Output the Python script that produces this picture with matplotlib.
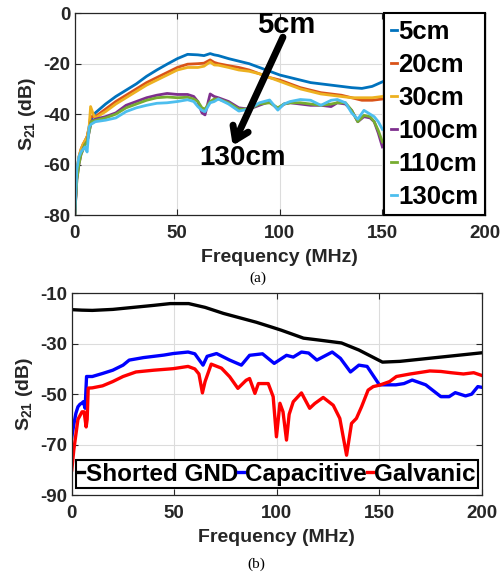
import numpy as np
import matplotlib
matplotlib.use('Agg')
import matplotlib.pyplot as plt

plt.rcParams['font.family'] = ['Liberation Sans', 'DejaVu Sans']
plt.rcParams['font.weight'] = 'bold'
plt.rcParams['axes.unicode_minus'] = False
plt.rcParams['mathtext.fontset'] = 'custom'
plt.rcParams['mathtext.rm'] = 'Liberation Sans:bold'
plt.rcParams['mathtext.it'] = 'Liberation Sans:bold'
plt.rcParams['mathtext.bf'] = 'Liberation Sans:bold'

# =============================================================================
# (a) S21 vs distance
# =============================================================================
f_up = [0, 1, 2, 3, 4, 5, 6, 7, 7.7, 9, 10, 15, 20, 25, 30, 35, 40, 45, 50, 55,
        60, 63, 66, 68, 70, 75, 80, 85, 90, 95, 100, 105, 110, 115, 120, 125,
        130, 135, 140, 145, 150]
s_5cm = [-80, -64, -58, -55, -53, -51, -49, -46, -43, -40.5, -39.5, -36, -33,
         -30.5, -28, -25, -22.5, -20.2, -18, -16.3, -16.5, -16.8, -16, -16.5,
         -16.8, -18, -19, -20, -21.5, -23, -24.5, -25.5, -26.5, -27.5, -28,
         -28.5, -29, -29.5, -29.8, -29, -27.2]
s_20cm = [-80, -63, -57, -54, -52, -50.5, -49, -45, -41, -41, -41, -38, -35,
          -32.5, -30, -27.5, -25.5, -23.5, -21.5, -20.2, -20, -19.8, -18.5,
          -19.5, -20, -20.8, -21.5, -22.5, -24, -25.5, -26.5, -28, -29.5,
          -30.5, -31.5, -32, -32.5, -33.5, -34.5, -34.5, -34]
s_30cm = [-80, -63, -57, -54, -52, -50.5, -49, -45, -37, -40, -41.5, -39, -36,
          -33.5, -31, -28.5, -26.5, -24.5, -22.5, -21.5, -21.5, -21, -19.3,
          -20.5, -20.6, -21.5, -22.5, -23, -24, -25.5, -27, -28.5, -30, -31,
          -32, -32.5, -33, -33.5, -33.5, -33.5, -33]

f_low = [0, 1, 2, 3, 4, 5, 6, 7, 8, 10, 15, 20, 25, 30, 35, 40, 45, 50, 55, 58,
         60, 62, 63.5, 66, 68, 70, 75, 80, 85, 90, 95, 99, 102, 105, 110, 115,
         120, 125, 128, 132, 135, 138, 141, 144, 146, 148, 150]
s_100cm = [-80, -66, -60, -56, -54, -52, -51, -47, -43, -42, -41, -39.5, -36.5,
           -35, -33.5, -32.5, -31.8, -32.2, -32.2, -33, -35, -39.5, -40.3, -32,
           -33, -33.5, -35, -37.5, -38, -36.5, -35, -38, -36, -35.5, -36,
           -36.5, -36.5, -37, -35.5, -36, -38.5, -43, -41, -41.5, -43, -47.5,
           -53]
s_110cm = [-80, -66, -60, -56, -54, -52, -51, -47, -43, -42.5, -41.5, -40,
           -37.5, -36, -34.5, -33.5, -33.2, -33.5, -33.3, -34, -35, -37.5, -38,
           -35, -34, -34, -35.5, -38, -38, -36, -35.5, -37.5, -36, -35.5,
           -35.5, -36, -36.5, -36, -35.5, -35.5, -38.5, -43, -40.5, -41, -43,
           -46.5, -51]
s_130cm = [-80, -62, -57, -55, -54, -53, -55, -45, -44, -43, -42.4, -41.5, -39,
           -37.5, -36.5, -35.7, -35.5, -35, -34.3, -35, -37, -38.5, -39, -35.5,
           -35, -34, -36, -38.8, -38, -35.5, -34.4, -38.4, -36, -35, -34.2,
           -34.5, -36.5, -34.5, -34.2, -35.5, -39.5, -42, -38.5, -40, -41, -43,
           -46]

dist_labels = ['5cm', '20cm', '30cm', '100cm', '110cm', '130cm']
dist_colors = ['#0072BD', '#D95319', '#EDB120', '#7E2F8E', '#77AC30', '#4DBEEE']

# =============================================================================
# (b) S21 vs ground configuration
# =============================================================================
f_gnd = [0, 5, 10, 20, 30, 40, 48, 57, 65, 74, 90, 97, 102, 113, 120, 131.5,
         140, 151.5, 160, 200]
s_gnd = [-16.5, -16.7, -16.8, -16.4, -15.6, -14.8, -14.1, -14.1, -15.6, -18,
         -21.5, -23.3, -24.6, -27.8, -28.5, -29.7, -32.5, -37.3, -37.0, -33.6]

f_cap = [0, 1, 2, 3, 4, 5, 5.6, 6.5, 7.2, 8, 10, 15, 20, 25, 28, 35, 40, 45,
         49.4, 56.7, 60, 64, 66, 70.6, 77, 82.7, 86.7, 93, 98.7, 104.7, 108,
         112, 115.5, 119.5, 127, 131, 135.9, 140, 144, 150, 158, 162, 166,
         172.6, 180, 184, 187, 192, 195, 198, 200]
s_cap = [-67, -62, -57.6, -55, -54, -53.5, -53, -55.6, -43, -43, -43, -41.8,
         -40.5, -38.5, -36.5, -35.5, -35, -34.5, -33.9, -33.3, -34, -38.5, -35,
         -33.9, -36.5, -38.5, -34.6, -34, -37.8, -34.6, -35.3, -33.3, -33.7,
         -36.5, -33.3, -35.8, -41.2, -38.5, -39, -46.3, -46.3, -45.8, -44.4,
         -46.3, -51, -51, -49.4, -50.7, -50, -47, -47.3]

f_gal = [0, 1, 3, 5, 6, 7, 7.5, 8, 10, 15, 20, 25, 31.3, 40, 49.4, 56.7, 60, 62,
         63.7, 65, 68, 73, 77, 81, 85, 86.7, 89.3, 91, 95.8, 98.2, 99.8, 101.5,
         103, 104.7, 106, 108, 112, 116, 118.5, 122.6, 127.5, 130.7, 134,
         136.4, 138.8, 141.3, 144.5, 147, 150.2, 155, 158.3, 165, 174.6, 180,
         185, 191, 196, 200]
s_gal = [-80, -72, -60, -57, -57, -63, -60, -47.6, -47.5, -46.7, -45, -43,
         -41.2, -40.5, -39.9, -39, -40, -42, -49.5, -45, -38.1, -39.7, -43.1,
         -47.7, -44.5, -43.8, -49.7, -45.8, -45.8, -51, -66.9, -53.6, -57,
         -68.2, -58, -53, -49.5, -55.6, -53.7, -51.3, -54.4, -59.6, -74.2,
         -61.6, -59.6, -55, -48.4, -47, -46.4, -45, -43, -42, -40.8, -41,
         -41.5, -42, -41.5, -42.6]

cfg_labels = ['Shorted GND', 'Capacitive', 'Galvanic']
cfg_colors = ['k', '#0000ff', '#ff0000']


def style_axes(ax):
    ax.grid(True, color='#dcdcdc', lw=0.8)
    ax.set_axisbelow(True)
    ax.tick_params(direction='in', length=4, width=0.8, labelsize=13.5,
                   top=True, right=True, colors='#262626')
    ax.tick_params(axis='x', pad=7)
    ax.tick_params(axis='y', pad=3)
    for lab in ax.get_xticklabels() + ax.get_yticklabels():
        lab.set_fontweight('bold')
    for sp in ax.spines.values():
        sp.set_color('#262626')
        sp.set_linewidth(0.9)
    ax.set_xlabel('Frequency (MHz)', fontsize=14, fontweight='bold',
                  labelpad=5.5, color='#262626')
    ax.set_ylabel(r'S$_{21}$ (dB)', fontsize=14, fontweight='bold',
                  labelpad=4, color='#262626')


fig = plt.figure(figsize=(5.02, 5.75), dpi=100)

# --- top panel ---
ax1 = fig.add_axes([0.149, 0.626, 0.817, 0.351])
top_f = [f_up, f_up, f_up, f_low, f_low, f_low]
top_s = [s_5cm, s_20cm, s_30cm, s_100cm, s_110cm, s_130cm]
for f, s, lab, c in zip(top_f, top_s, dist_labels, dist_colors):
    ax1.plot(f, s, color=c, lw=2.0, label=lab)
ax1.set_xlim(0, 200)
ax1.set_ylim(-80, 0)
ax1.set_xticks([0, 50, 100, 150, 200])
ax1.set_yticks([-80, -60, -40, -20, 0])
style_axes(ax1)

ax1.annotate('', xy=(77, -52.5), xytext=(101.5, -9.5),
             arrowprops=dict(arrowstyle='->,head_length=0.9,head_width=0.6',
                             lw=5, color='k', shrinkA=0, shrinkB=0))
ax1.text(103, -4.5, '5cm', ha='center', va='center', fontsize=21,
         fontweight='bold')
ax1.text(82, -57.5, '130cm', ha='center', va='center', fontsize=20,
         fontweight='bold')

leg1 = ax1.legend(loc='upper right', bbox_to_anchor=(1.0, 1.0),
                  borderaxespad=0, fontsize=18.5, handlelength=0.25,
                  handletextpad=0.05, labelspacing=0.35, borderpad=0.25,
                  fancybox=False, framealpha=1, edgecolor='k')
leg1.get_frame().set_linewidth(1.5)
for t in leg1.get_texts():
    t.set_fontweight('bold')

# --- bottom panel ---
ax2 = fig.add_axes([0.143, 0.139, 0.817, 0.351])
bot_f = [f_gnd, f_cap, f_gal]
bot_s = [s_gnd, s_cap, s_gal]
for f, s, lab, c in zip(bot_f, bot_s, cfg_labels, cfg_colors):
    ax2.plot(f, s, color=c, lw=2.4, label=lab)
ax2.set_xlim(0, 200)
ax2.set_ylim(-90, -10)
ax2.set_xticks([0, 50, 100, 150, 200])
ax2.set_yticks([-90, -70, -50, -30, -10])
style_axes(ax2)

leg2 = ax2.legend(loc='lower left', bbox_to_anchor=(0.01, 0.035), ncol=3,
                  borderaxespad=0, fontsize=17.5, handlelength=0.25,
                  handletextpad=0.05, columnspacing=0.0, borderpad=0.1,
                  fancybox=False, framealpha=1, edgecolor='k')
leg2.get_frame().set_linewidth(1.5)
for t in leg2.get_texts():
    t.set_fontweight('bold')

fig.text(0.514, 1 - 278 / 575, '(a)', family='Liberation Serif', fontsize=11,
         ha='center', va='center', fontweight='normal')
fig.text(0.51, 1 - 564 / 575, '(b)', family='Liberation Serif', fontsize=11,
         ha='center', va='center', fontweight='normal')

fig.savefig('out.png', dpi=100)
